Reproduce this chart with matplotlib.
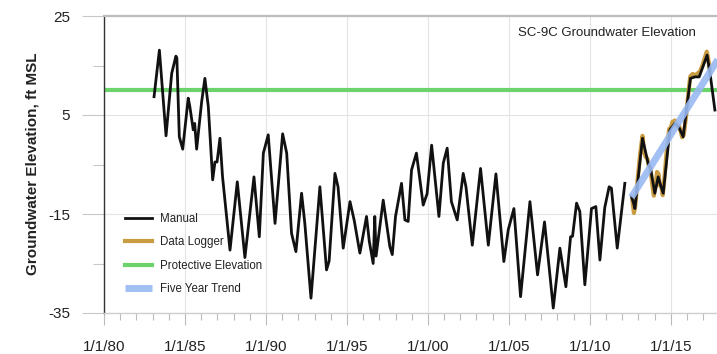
import numpy as np
import matplotlib
matplotlib.use("Agg")
import matplotlib.pyplot as plt
from matplotlib.ticker import MultipleLocator, FixedLocator

plt.rcParams['font.family'] = ['Liberation Sans', 'DejaVu Sans']
plt.rcParams['axes.unicode_minus'] = False

# ---- data (decimal years, ft MSL) ----
manual_x = [1983.09, 1983.42, 1983.83, 1984.18, 1984.44, 1984.50, 1984.65, 1984.86,
            1985.20, 1985.30, 1985.51, 1985.60, 1985.72, 1986.03, 1986.23, 1986.44,
            1986.71, 1986.85, 1986.98, 1987.16, 1987.32, 1987.78, 1988.23, 1988.70,
            1989.26, 1989.59, 1989.84, 1990.14, 1990.56, 1991.03, 1991.28, 1991.58,
            1991.85, 1992.20, 1992.40, 1992.78, 1993.33, 1993.74, 1993.90, 1994.26,
            1994.45, 1994.77, 1995.19, 1995.45, 1995.80, 1996.21, 1996.38, 1996.62,
            1996.72, 1996.80, 1997.24, 1997.65, 1997.80, 1998.00, 1998.37, 1998.58,
            1998.78, 1998.99, 1999.29, 1999.71, 1999.95, 2000.23, 2000.68, 2000.95,
            2001.19, 2001.45, 2001.81, 2002.18, 2002.35, 2002.74, 2003.25, 2003.73,
            2004.20, 2004.69, 2004.96, 2005.31, 2005.72, 2006.30, 2006.77, 2007.20,
            2007.74, 2008.15, 2008.52, 2008.81, 2008.93, 2009.18, 2009.38, 2009.69,
            2010.10, 2010.37, 2010.62, 2010.92, 2011.19, 2011.33, 2011.69, 2012.16,
            np.nan,
            2012.57, 2012.70, 2012.78, 2013.25, 2013.60, 2013.74, 2014.01, 2014.22,
            2014.36, 2014.53, 2014.94, 2015.25, 2015.50, 2015.76, 2016.21, 2016.49,
            2016.75, 2017.24, 2017.45, 2017.72]
manual_y = [8.7, 18.1, 0.8, 13.4, 16.9, 16.5, 0.6, -1.9,
            8.4, 6.7, 2.0, 3.3, -1.9, 7.7, 12.4, 6.7,
            -8.1, -4.5, -4.5, 0.3, -7.5, -22.3, -8.5, -23.8,
            -7.5, -19.6, -2.7, 1.0, -16.9, 1.2, -2.7, -18.9,
            -22.6, -10.8, -16.9, -32.0, -9.5, -26.3, -24.5, -6.8,
            -9.5, -21.9, -12.5, -16.3, -22.9, -15.5, -20.5, -25.0,
            -15.5, -23.5, -12.2, -21.6, -23.2, -15.5, -8.8, -16.2,
            -16.5, -6.1, -2.7, -13.2, -10.9, -1.1, -15.5, -4.7,
            -1.7, -12.5, -16.2, -6.8, -9.5, -21.3, -5.8, -21.3,
            -6.9, -24.6, -18.2, -13.9, -31.7, -12.5, -27.3, -16.6,
            -34.0, -21.9, -29.7, -19.6, -19.5, -12.8, -14.5, -29.3,
            -13.9, -13.5, -24.3, -13.7, -9.5, -9.8, -21.9, -8.8,
            np.nan,
            -11.5, -12.8, -13.9, 0.3, -4.8, -5.7, -10.8, -7.5,
            -9.1, -10.8, 2.0, 3.3, 2.5, 0.6, 12.4, 12.7,
            12.7, 17.1, 12.7, 6.0]

logger_x = [2012.62, 2012.72, 2012.80, 2012.95, 2013.10, 2013.25, 2013.35, 2013.45,
            2013.55, 2013.65, 2013.75, 2013.85, 2013.95, 2014.05, 2014.15, 2014.25,
            2014.32, 2014.42, 2014.50, 2014.60, 2014.75, 2014.90, 2015.00, 2015.10,
            2015.25, 2015.35, 2015.50, 2015.60, 2015.70, 2015.80, 2015.95, 2016.10,
            2016.20, 2016.35, 2016.50, 2016.65, 2016.80, 2016.95, 2017.10, 2017.22,
            2017.30, 2017.40]
logger_y = [-12.0, -14.8, -13.5, -8.0, -3.0, 0.8, -2.5, -3.5,
            -3.8, -5.5, -6.0, -9.0, -11.3, -9.5, -6.5, -7.0,
            -9.2, -9.6, -11.2, -8.0, -2.0, 2.2, 2.5, 3.6,
            3.9, 2.8, 2.8, 1.8, 0.5, 1.0, 5.0, 10.0,
            12.8, 13.3, 13.0, 13.4, 13.8, 15.0, 16.6, 17.8,
            16.5, 14.2]

protective_elev = 10.0
trend_x = [2012.57, 2017.90]
trend_y = [-11.6, 16.2]

x_tick_years = [1980, 1985, 1990, 1995, 2000, 2005, 2010, 2015]
x_tick_labels = ['1/1/80', '1/1/85', '1/1/90', '1/1/95', '1/1/00', '1/1/05', '1/1/10', '1/1/15']
y_ticks = [-35, -15, 5, 25]

# ---- figure ----
W, H = 717, 354
fig = plt.figure(figsize=(W / 100, H / 100), dpi=100)
ax = fig.add_axes([104 / W, 41 / H, 613 / W, 297 / H])

ax.axhline(protective_elev, color='#6CD36C', lw=3.0, zorder=2, label='Protective Elevation')
ax.plot(logger_x, logger_y, color='#C99C42', lw=3.0, zorder=3, solid_joinstyle='round',
        label='Data Logger')
ax.plot(manual_x, manual_y, color='#111111', lw=2.0, zorder=4, solid_joinstyle='round',
        label='Manual')
ax.plot(trend_x, trend_y, color='#98B9F2', lw=5.0, alpha=0.9, zorder=5,
        solid_capstyle='butt', label='Five Year Trend')

ax.set_xlim(1980, 2017.85)
ax.set_ylim(-35, 25)

ax.set_xticks(x_tick_years)
ax.set_xticklabels(x_tick_labels)
ax.xaxis.set_minor_locator(MultipleLocator(1))
ax.set_yticks(y_ticks)
ax.yaxis.set_minor_locator(FixedLocator([-25, -5, 15]))

ax.grid(True, which='major', color='#E4E4E4', lw=0.8, zorder=0)
ax.tick_params(axis='x', which='major', length=8.6, width=0.8, color='#BBBBBB',
               labelsize=11, pad=10.5, labelcolor='#222222')
ax.tick_params(axis='x', which='minor', length=5, width=0.8, color='#BBBBBB')
ax.tick_params(axis='y', which='major', length=15.8, width=0.8, color='#C8C8C8',
               labelsize=11, pad=8.5, labelcolor='#222222')
ax.tick_params(axis='y', which='minor', length=7.9, width=0.8, color='#C8C8C8')
ax.xaxis.get_major_ticks()[0].tick1line.set_color('#333333')

ax.spines['right'].set_visible(False)
ax.spines['left'].set_color('#333333')
ax.spines['left'].set_linewidth(1.0)
ax.spines['top'].set_color('#BDBDBD')
ax.spines['top'].set_linewidth(1.6)
ax.spines['bottom'].set_color('#CFCFCF')
ax.spines['bottom'].set_linewidth(1.0)

fig.text(33 / W, 1 - 164 / H, 'Groundwater Elevation, ft MSL', rotation=90,
         ha='center', va='center', fontsize=11, fontweight='bold', color='#222222')

ax.text(0.966, 0.943, 'SC-9C Groundwater Elevation', transform=ax.transAxes,
        ha='right', va='center', fontsize=9.5, color='#222222')

handles, labels = ax.get_legend_handles_labels()
order = ['Manual', 'Data Logger', 'Protective Elevation', 'Five Year Trend']
hmap = dict(zip(labels, handles))
leg = ax.legend([hmap[k] for k in order], order, loc='upper left',
                bbox_to_anchor=(125 / W, 1 - 213 / H), bbox_transform=fig.transFigure,
                frameon=False, fontsize=8.3, handlelength=2.35, handletextpad=0.7,
                labelspacing=0.98, borderpad=0, borderaxespad=0)
for t in leg.get_texts():
    t.set_color('#222222')

fig.savefig('out.png', dpi=100)
